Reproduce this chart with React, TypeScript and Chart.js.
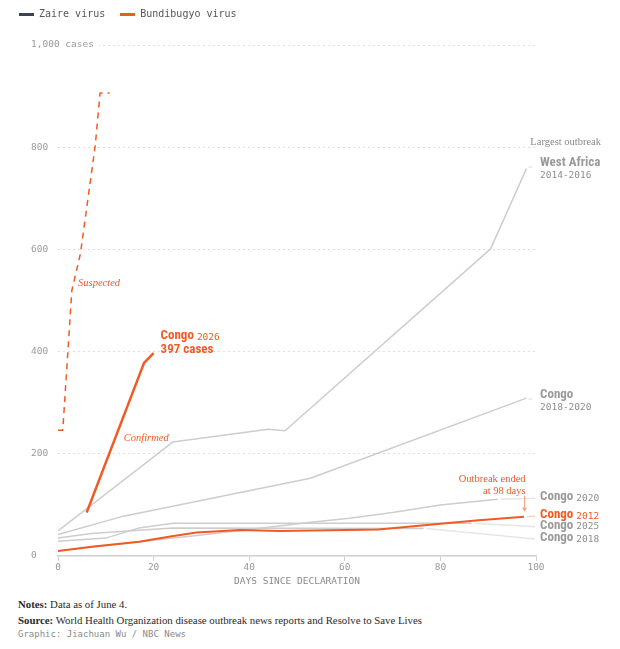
import React, { useEffect, useRef } from "react";
import { Chart, registerables } from "chart.js";
Chart.register(...registerables);

const GRAY = "#cdcdcd";
const ORANGE = "#f15a24";
const MONO = '"DejaVu Sans Mono", monospace';
const SERIF = '"Liberation Serif", "DejaVu Serif", serif';
const COND = '"Liberation Sans Narrow", "Roboto Condensed", Roboto, sans-serif';

// ---- data (days since declaration, cumulative cases) ----
const westAfricaDays = [0, 24, 44, 47.5, 90.5, 98];
const westAfricaCases = [49, 223, 248, 245, 601, 758];
const congo1820Days = [0, 13.7, 52.8, 98];
const congo1820Cases = [42, 78, 152, 309];
const congo2020Days = [0, 17, 30, 40, 52, 61, 70, 80, 92];
const congo2020Cases = [10, 28, 41, 52, 65, 74, 85, 100, 111];
const congo2018Days = [0, 7, 24, 76.5];
const congo2018Cases = [35, 44, 55, 54];
const congo2025Days = [0, 10, 17, 24, 86.5];
const congo2025Cases = [29, 35, 55, 64, 64];
const congo2012Days = [0, 7, 17, 23.5, 29, 38, 46.5, 67, 80, 88, 97.5];
const congo2012Cases = [10, 18, 28, 38, 46, 51, 49, 52, 63, 70, 77];
const congo2026ConfirmedDays = [6, 18, 20];
const congo2026ConfirmedCases = [85, 378, 397];
const congo2026SuspectedDays = [0, 1, 2.9, 4.7, 7.8, 8.8, 10.8];
const congo2026SuspectedCases = [246, 246, 520, 592, 804, 906, 906];

const xTicks = [0, 20, 40, 60, 80, 100];
const yTicks = [0, 200, 400, 600, 800, 1000];

// right-hand labels
const labelNames = ["West Africa", "Congo", "Congo", "Congo", "Congo", "Congo"];
const labelYears = ["2014-2016", "2018-2020", "2020", "2012", "2025", "2018"];
const labelAt = [769, 315, 115, 80, 59, 35];
const labelTwoLine = [true, true, false, false, false, false];
const labelOrange = [false, false, false, true, false, false];

const pts = (d: number[], c: number[]) => d.map((x, i) => ({ x, y: c[i] }));

const annotate = {
  id: "annotate",
  afterDatasetsDraw(chart: any) {
    const { ctx } = chart;
    const x = chart.scales.x;
    const y = chart.scales.y;
    const datasets = chart.data.datasets;
    ctx.save();
    const map = [2, 3, 4, 1, 6, 5];
    const lx = x.getPixelForValue(100);
    map.forEach((di: number, i: number) => {
      const data = datasets[di].data;
      const last = data[data.length - 1];
      const px = x.getPixelForValue(last.x);
      const py = y.getPixelForValue(last.y);
      const ty = y.getPixelForValue(labelAt[i]);
      const col = labelOrange[i] ? ORANGE : "#9a9a9a";
      ctx.strokeStyle = labelOrange[i] ? "#fcd3c1" : "#e6e6e6";
      ctx.lineWidth = 1.5;
      ctx.beginPath();
      if (labelTwoLine[i]) {
        ctx.moveTo(px + 2, ty + 4);
        ctx.lineTo(lx - 4, ty + 4);
      } else {
        ctx.moveTo(px + 3, py);
        ctx.lineTo(lx - 1, ty + 1);
      }
      ctx.stroke();
      ctx.textAlign = "left";
      ctx.textBaseline = "middle";
      ctx.fillStyle = col;
      ctx.font = `bold 13px ${COND}`;
      ctx.fillText(labelNames[i], lx + 4, ty);
      const w = ctx.measureText(labelNames[i]).width;
      ctx.font = `9.5px ${MONO}`;
      ctx.fillStyle = labelOrange[i] ? ORANGE : "#8e8e8e";
      if (labelTwoLine[i]) ctx.fillText(labelYears[i], lx + 4, ty + 12.5);
      else ctx.fillText(labelYears[i], lx + 4 + w + 3, ty + 1);
    });

    ctx.font = `10.5px ${SERIF}`;
    ctx.fillStyle = "#8a8a8a";
    ctx.textAlign = "right";
    ctx.fillText("Largest outbreak", 601, y.getPixelForValue(810));

    const cLastI = congo2026ConfirmedDays.length - 1;
    const cx = x.getPixelForValue(congo2026ConfirmedDays[cLastI]) + 7;
    const cy = y.getPixelForValue(congo2026ConfirmedCases[cLastI]) - 3;
    ctx.textAlign = "left";
    ctx.fillStyle = ORANGE;
    ctx.font = `bold 13px ${COND}`;
    ctx.fillText("Congo", cx, cy - 14);
    const cw = ctx.measureText("Congo").width;
    ctx.fillText(`${congo2026ConfirmedCases[cLastI]} cases`, cx, cy);
    ctx.font = `9.5px ${MONO}`;
    ctx.fillText("2026", cx + cw + 3, cy - 13);

    ctx.font = `italic 10.5px ${SERIF}`;
    ctx.fillText("Suspected", x.getPixelForValue(4.2), y.getPixelForValue(534));
    ctx.fillText("Confirmed", x.getPixelForValue(13.75), y.getPixelForValue(231));

    const endI = congo2012Days.length - 1;
    const ax = x.getPixelForValue(congo2012Days[endI]) + 0.5;
    const ay = y.getPixelForValue(congo2012Cases[endI]);
    ctx.font = `10.5px ${SERIF}`;
    ctx.textAlign = "right";
    ctx.fillText("Outbreak ended", ax + 1, ay - 37);
    ctx.fillText("at 98 days", ax + 1, ay - 25);
    ctx.strokeStyle = "#f7a07c";
    ctx.lineWidth = 1;
    ctx.beginPath();
    ctx.moveTo(ax, ay - 21);
    ctx.lineTo(ax, ay - 6);
    ctx.stroke();
    ctx.fillStyle = "#f7a07c";
    ctx.beginPath();
    ctx.moveTo(ax - 2.5, ay - 9);
    ctx.lineTo(ax + 2.5, ay - 9);
    ctx.lineTo(ax, ay - 5);
    ctx.closePath();
    ctx.fill();
    ctx.restore();
  },
};

export default function App() {
  const canvasRef = useRef<HTMLCanvasElement>(null);
  useEffect(() => {
    const grayLine = (d: number[], c: number[]) => ({
      data: pts(d, c),
      borderColor: GRAY,
      borderWidth: 1.5,
    });
    const chart = new Chart(canvasRef.current as HTMLCanvasElement, {
      type: "line",
      data: {
        datasets: [
          { data: pts(congo2026ConfirmedDays, congo2026ConfirmedCases), borderColor: ORANGE, borderWidth: 2.5 },
          { data: pts(congo2012Days, congo2012Cases), borderColor: ORANGE, borderWidth: 2 },
          grayLine(westAfricaDays, westAfricaCases),
          grayLine(congo1820Days, congo1820Cases),
          grayLine(congo2020Days, congo2020Cases),
          grayLine(congo2018Days, congo2018Cases),
          grayLine(congo2025Days, congo2025Cases),
          {
            data: pts(congo2026SuspectedDays, congo2026SuspectedCases),
            borderColor: ORANGE,
            borderWidth: 1.5,
            borderDash: [6, 5],
          },
        ] as any,
      },
      options: {
        animation: false,
        responsive: true,
        maintainAspectRatio: false,
        layout: { padding: { left: 31, right: 84, top: 45, bottom: 0 } },
        plugins: { legend: { display: false }, tooltip: { enabled: false } },
        elements: {
          point: { radius: 0, hoverRadius: 0 },
          line: { tension: 0, fill: false, borderJoinStyle: "round" },
        },
        scales: {
          x: {
            type: "linear",
            min: 0,
            max: 100,
            afterFit: (s: any) => {
              s.height = 35;
            },
            afterBuildTicks: (s: any) => {
              s.ticks = xTicks.map((v) => ({ value: v }));
            },
            ticks: {
              padding: 1,
              maxRotation: 0,
              font: { family: MONO, size: 9.5 },
              color: "#999",
            },
            grid: { drawOnChartArea: false, drawTicks: true, tickLength: 5, color: "#cfcfcf" },
            border: { display: true, color: "#cfcfcf", width: 1.5 },
            title: {
              display: true,
              text: "DAYS SINCE DECLARATION",
              font: { family: MONO, size: 9.5 },
              color: "#8a8a8a",
              padding: { top: 0, bottom: 4 },
            },
          },
          y: {
            type: "linear",
            min: 0,
            max: 1000,
            afterFit: (s: any) => {
              s.width = 27;
            },
            afterBuildTicks: (s: any) => {
              s.ticks = yTicks.map((v) => ({ value: v }));
            },
            ticks: {
              mirror: true,
              crossAlign: "near",
              padding: -27,
              font: { family: MONO, size: 9.5 },
              color: "#9a9a9a",
              callback: (v: any) => (v === 1000 ? "1,000 cases" : String(v)),
              showLabelBackdrop: true,
              backdropColor: "#ffffff",
              backdropPadding: { top: 1, bottom: 1, left: 0, right: 5 },
            },
            grid: {
              drawTicks: false,
              lineWidth: 1,
              color: (c: any) => (c.tick && c.tick.value === 0 ? "rgba(0,0,0,0)" : "#dedede"),
            },
            border: { display: false, dash: [2, 3] },
          },
        },
      } as any,
      plugins: [annotate],
    });
    return () => chart.destroy();
  }, []);

  return (
    <div style={{ position: "absolute", left: 0, top: 0, width: 620, height: 649, background: "#fff" }}>
      <div style={{ position: "absolute", left: 0, top: 0, width: 620, height: 591 }}>
        <canvas ref={canvasRef} />
      </div>
      <div
        style={{
          position: "absolute",
          left: 19,
          top: 7,
          display: "flex",
          alignItems: "center",
          fontFamily: MONO,
          fontSize: 10,
          color: "#555",
          lineHeight: "14px",
        }}
      >
        <span style={{ display: "inline-block", width: 15, height: 3, background: "#3c4257", marginRight: 5 }} />
        <span style={{ marginRight: 15 }}>Zaire virus</span>
        <span style={{ display: "inline-block", width: 15, height: 3, background: ORANGE, marginRight: 5 }} />
        <span>Bundibugyo virus</span>
      </div>
      <div
        style={{
          position: "absolute",
          left: 18,
          top: 596,
          fontFamily: SERIF,
          fontSize: 10.8,
          color: "#2a2a2a",
          lineHeight: "16px",
        }}
      >
        <div>
          <b>Notes:</b> Data as of June 4.
        </div>
        <div>
          <b>Source:</b> World Health Organization disease outbreak news reports and Resolve to Save Lives
        </div>
        <div style={{ fontFamily: MONO, fontSize: 9, color: "#8a8a8a", lineHeight: "13px" }}>
          Graphic: Jiachuan Wu / NBC News
        </div>
      </div>
    </div>
  );
}
